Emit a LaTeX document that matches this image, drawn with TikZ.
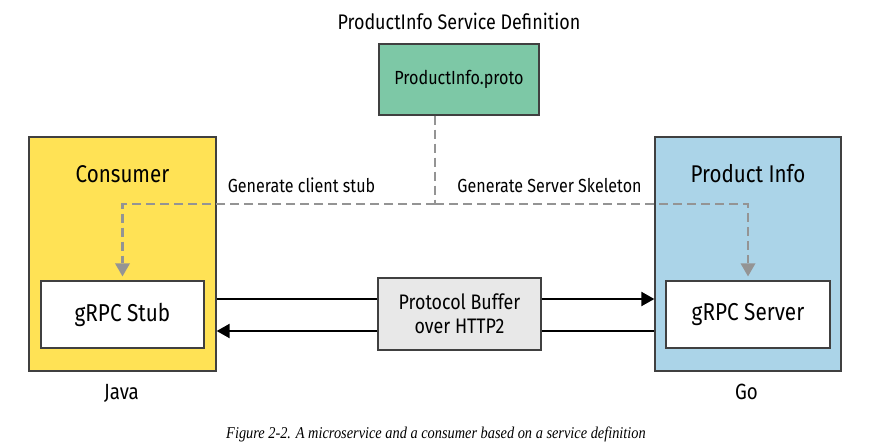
\documentclass[tikz,border=0pt]{standalone}
\usepackage{fontspec}
\setmainfont{Fira Sans}[FakeStretch=0.85]
\newfontfamily\capfont{Liberation Serif}[FakeStretch=0.87]
\usetikzlibrary{arrows.meta,calc}

\tikzset{
	box/.style = {draw=black!75, line width=1.3pt, inner sep=0pt, align=center},
	gen/.style = {draw=black!42!white, line width=2.6pt, dash pattern=on 9pt off 5pt},
	flow/.style = {line width=2.2pt, draw=black},
	lbl/.style = {anchor=base, inner sep=0pt}
}

\begin{document}
\begin{tikzpicture}[x=1pt, y=-1pt]
	% Canvas
	\useasboundingbox (0,0) rectangle (875,447);
	
	% Definition
	\node[lbl, font=\fontsize{21.1}{24}\selectfont] (title) at (459,29) {ProductInfo Service Definition};
	\node[box, fill={rgb,255:red,125;green,200;blue,166}, minimum width=160pt, minimum height=71pt,
	font=\fontsize{19}{22}\selectfont] (proto) at (459,79.5) {ProductInfo.proto};
	
	% Consumer side
	\node[box, fill={rgb,255:red,255;green,226;blue,85}, minimum width=187pt, minimum height=234pt] (consumer) at (122.5,254) {};
	\node[lbl, font=\fontsize{24.2}{28}\selectfont] (cname) at (122.5,182) {Consumer};
	\node[box, fill=white, minimum width=163pt, minimum height=67pt, font=\fontsize{24.4}{28}\selectfont] (stub) at (122.5,314.5) {gRPC Stub};
	
	% Service side
	\node[box, fill={rgb,255:red,171;green,212;blue,232}, minimum width=186pt, minimum height=234pt] (product) at (748,254) {};
	\node[lbl, font=\fontsize{24.2}{28}\selectfont] (pname) at (748,182) {Product Info};
	\node[box, fill=white, minimum width=164pt, minimum height=67pt, font=\fontsize{24.4}{28}\selectfont] (server) at (748,314.5) {gRPC Server};
	
	% Transport
	\node[box, fill=black!9, minimum width=163pt, minimum height=72pt, font=\fontsize{21}{24}\selectfont] (pbuf) at (459.5,314) {Protocol Buffer\\over HTTP2};
	
	\coordinate (up) at (0,299);
	\coordinate (down) at (0,331);
	\draw[flow] (consumer.east |- up) -- (pbuf.west |- up);
	\draw[flow, -{Triangle[length=13pt, width=14pt]}] (pbuf.east |- up) -- (product.west |- up);
	\draw[flow] (product.west |- down) -- (pbuf.east |- down);
	\draw[flow, -{Triangle[length=13pt, width=14pt]}] (pbuf.west |- down) -- (consumer.east |- down);
	
	% Code generation
	\coordinate (split) at (435,204);
	\draw[gen] (proto.south -| split) -- (split);
	\draw[gen, shorten >=4pt, -{Triangle[length=13pt, width=15pt, line width=0pt]}] (split) -| (stub.north);
	\draw[gen, shorten >=4pt, -{Triangle[length=13pt, width=15pt, line width=0pt]}] (split) -| (server.north);
	\node[lbl, font=\fontsize{18.9}{22}\selectfont] (gclient) at (301.5,192) {Generate client stub};
	\node[lbl, font=\fontsize{18.9}{22}\selectfont] (gserver) at (549.5,192) {Generate Server Skeleton};
	
	% Languages
	\node[lbl, font=\fontsize{22}{24}\selectfont] (java) at (121.5,399) {Java};
	\node[lbl, font=\fontsize{22}{24}\selectfont] (go) at (746.5,399) {Go};
	
	% Caption
	\node[lbl, font=\capfont\itshape\fontsize{16.5}{20}\selectfont] (caption) at (436,438) {Figure 2-2. A microservice and a consumer based on a service definition};
\end{tikzpicture}
\end{document}
